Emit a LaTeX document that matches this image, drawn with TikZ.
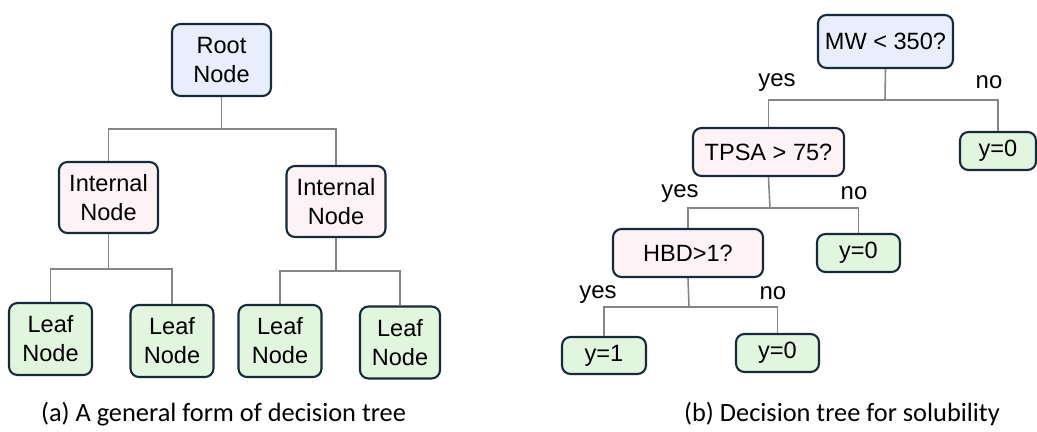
\documentclass[tikz,border=0pt]{standalone}
\usepackage{fontspec}
\setmainfont{Liberation Sans}
\newfontfamily\legende{Carlito}
\usepackage{xcolor}
\usetikzlibrary{shapes,arrows,positioning,fit,backgrounds}

\definecolor{bordure}{HTML}{162A3A}
\definecolor{racine}{HTML}{E8EEFC}
\definecolor{interne}{HTML}{FDF3F6}
\definecolor{feuille}{HTML}{E2F5DF}
\definecolor{trait}{HTML}{858585}

\tikzset{
    boite/.style={draw=bordure, line width=1.2pt, rounded corners=0.17cm,
        align=center, inner sep=0pt, font=\fontsize{13.4}{16.5}\selectfont},
    racinebox/.style={boite, fill=racine},
    internebox/.style={boite, fill=interne},
    feuillebox/.style={boite, fill=feuille},
    lien/.style={draw=trait, line width=0.9pt},
    etiq/.style={font=\fontsize{13.6}{15}\selectfont},
    legendebox/.style={font=\legende\fontsize{15}{17}\selectfont},
}

\begin{document}
\begin{tikzpicture}
    \useasboundingbox (0,0) rectangle (20.74,8.62);

    % Arbre (a) : forme generale
    \node[racinebox, minimum width=1.98cm, minimum height=1.44cm] (root) at (4.43,7.42) {Root\\Node};
    \node[internebox, minimum width=1.98cm, minimum height=1.42cm] (intL) at (2.17,4.67) {Internal\\Node};
    \node[internebox, minimum width=1.98cm, minimum height=1.42cm] (intR) at (6.72,4.59) {Internal\\Node};
    \node[feuillebox, minimum width=1.66cm, minimum height=1.44cm] (leaf1) at (1.01,1.84) {Leaf\\Node};
    \node[feuillebox, minimum width=1.66cm, minimum height=1.44cm] (leaf2) at (3.44,1.80) {Leaf\\Node};
    \node[feuillebox, minimum width=1.66cm, minimum height=1.44cm] (leaf3) at (5.60,1.80) {Leaf\\Node};
    \node[feuillebox, minimum width=1.60cm, minimum height=1.44cm] (leaf4) at (8.00,1.77) {Leaf\\Node};

    \coordinate (ba) at (4.43,6.04);
    \coordinate (bb) at (2.17,3.24);
    \coordinate (bc) at (6.72,3.20);
    \draw[lien] (root.south) -- (ba);
    \draw[lien] (intL.north) |- (ba) -| (intR.north);
    \draw[lien] (intL.south) -- (bb);
    \draw[lien] (leaf1.north) |- (bb) -| (leaf2.north);
    \draw[lien] (intR.south) -- (bc);
    \draw[lien] (leaf3.north) |- (bc) -| (leaf4.north);

    \node[legendebox] (capA) at (4.47,0.34) {(a) A general form of decision tree};

    % Arbre (b) : solubilite
    \node[racinebox, minimum width=2.70cm, minimum height=1.06cm] (mw) at (17.71,7.79) {MW < 350?};
    \node[internebox, minimum width=3.02cm, minimum height=0.96cm] (tpsa) at (15.37,5.58) {TPSA > 75?};
    \node[feuillebox, minimum width=1.52cm, minimum height=0.76cm] (r0) at (19.96,5.60) {y=0};
    \node[internebox, minimum width=3.00cm, minimum height=0.96cm] (hbd) at (13.76,3.56) {HBD>1?};
    \node[feuillebox, minimum width=1.66cm, minimum height=0.76cm] (m0) at (17.17,3.56) {y=0};
    \node[feuillebox, minimum width=1.68cm, minimum height=0.74cm] (y1) at (12.08,1.51) {y=1};
    \node[feuillebox, minimum width=1.66cm, minimum height=0.76cm] (b0) at (15.55,1.56) {y=0};

    \coordinate (bd) at (17.70,6.62);
    \coordinate (be) at (15.40,4.46);
    \coordinate (bf) at (13.78,2.48);
    \draw[lien] (mw.south) -- (bd);
    \draw[lien] (tpsa.north) |- (bd) -| (r0.north);
    \draw[lien] (tpsa.south) -- (be);
    \draw[lien] (hbd.north) |- (be) -| (m0.north);
    \draw[lien] (hbd.south) -- (bf);
    \draw[lien] (y1.north) |- (bf) -| (b0.north);

    \node[etiq] (oui1) at (15.54,6.96) {yes};
    \node[etiq] (non1) at (19.78,6.98) {no};
    \node[etiq] (oui2) at (13.60,4.74) {yes};
    \node[etiq] (non2) at (17.08,4.76) {no};
    \node[etiq] (oui3) at (11.96,2.72) {yes};
    \node[etiq] (non3) at (15.46,2.76) {no};

    \node[legendebox] (capB) at (16.84,0.34) {(b) Decision tree for solubility};
\end{tikzpicture}
\end{document}
